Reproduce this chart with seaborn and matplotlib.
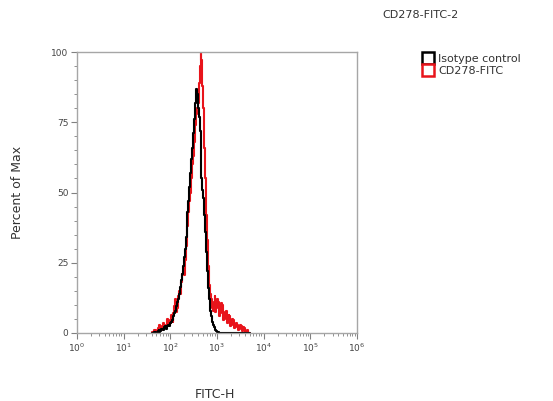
import numpy as np
import pandas as pd
import matplotlib
matplotlib.use("Agg")
import matplotlib.pyplot as plt
import matplotlib.ticker as mticker
from matplotlib.lines import Line2D
import seaborn as sb

# log10 of FITC-H channel (bin centres, 1.60 .. 3.70)
bins_log = np.round(np.arange(1.60, 3.701, 0.02), 2)

# Percent of Max for each sample
cd278 = [0, 0.3, 0.5, 1.2, 1.0, 0.4, 0.8, 1.6, 1.5, 2.8,
         2.5, 1.2, 1.8, 3.5, 3.0, 1.8, 2.2, 5.0, 4.5, 2.8,
         3.5, 6.5, 5.5, 4.0, 7.0, 9.5, 12.0, 7.5, 9.0, 13.0,
         15.0, 14.0, 18.0, 21.0, 22.0, 20.5, 26.0, 31.0, 34.0, 38.0,
         43.0, 47.0, 50.0, 55.0, 60.0, 63.0, 68.0, 74.0, 78.0, 80.0,
         82.0, 89.0, 95.0, 100.0, 97.0, 88.0, 80.0, 66.0, 55.0, 42.0,
         33.0, 24.0, 17.0, 14.0, 12.0, 9.0, 8.0, 11.0, 13.0, 7.5,
         9.0, 12.0, 11.0, 6.0, 7.0, 10.5, 10.0, 4.5, 5.0, 7.5,
         8.0, 3.5, 4.0, 6.5, 6.0, 2.5, 3.0, 5.0, 4.5, 1.8,
         2.0, 3.5, 3.0, 1.0, 1.5, 2.8, 2.5, 0.8, 1.0, 2.0,
         1.8, 0.5, 0.5, 1.0, 0, 0]
isotype = [0, 0, 0, 0.4, 0.5, 0, 0, 0.6, 1.0, 0.5,
           0.8, 1.4, 1.5, 1.0, 2.0, 2.4, 1.5, 2.5, 3.0, 2.6,
           3.5, 4.0, 4.5, 5.5, 6.0, 7.0, 8.0, 9.5, 11.0, 12.0,
           14.0, 16.5, 19.0, 21.0, 24.0, 27.0, 30.0, 34.0, 38.0, 43.0,
           47.0, 52.0, 57.0, 62.0, 66.0, 71.0, 76.0, 82.0, 87.0, 85.0,
           80.0, 77.0, 72.0, 63.0, 55.0, 51.0, 48.0, 42.0, 36.0, 29.0,
           22.0, 16.0, 12.0, 8.0, 6.0, 4.0, 3.0, 2.0, 1.5, 1.0,
           0.8, 0.5, 0.3, 0, 0, 0, 0, 0, 0, 0,
           0, 0, 0, 0, 0, 0, 0, 0, 0, 0,
           0, 0, 0, 0, 0, 0, 0, 0, 0, 0,
           0, 0, 0, 0, 0, 0]

fitc = 10 ** bins_log
red_df = pd.DataFrame({"FITC-H": fitc, "pct": cd278})
black_df = pd.DataFrame({"FITC-H": fitc, "pct": isotype})

sb.set_style("white")
plt.rcParams["font.family"] = ["DejaVu Sans"]

fig = plt.figure(figsize=(5.53, 4.01), dpi=100)
ax = fig.add_axes([0.139, 0.1696, 0.5064, 0.7007])

# histogram outlines drawn as steps, black on top
sb.lineplot(data=red_df, x="FITC-H", y="pct", ax=ax, color="#e8141b",
            linewidth=1.5, drawstyle="steps-mid")
sb.lineplot(data=black_df, x="FITC-H", y="pct", ax=ax, color="black",
            linewidth=1.5, drawstyle="steps-mid")

ax.set_xscale("log")
ax.set_xlim(1, 1e6)
ax.set_ylim(0, 100)
ax.set_xlabel("")
ax.set_ylabel("")

ax.set_yticks([0, 25, 50, 75, 100])
ax.yaxis.set_minor_locator(mticker.MultipleLocator(5))
ax.xaxis.set_major_locator(mticker.LogLocator(base=10, numticks=10))
ax.xaxis.set_minor_locator(mticker.LogLocator(base=10, subs=np.arange(2, 10), numticks=20))
ax.xaxis.set_minor_formatter(mticker.NullFormatter())

for s in ax.spines.values():
    s.set_color("#a6a6a6")
    s.set_linewidth(1.0)
ax.tick_params(which="major", direction="out", length=4, width=0.8,
               color="#808080", labelsize=6.5, labelcolor="#444444",
               left=True, bottom=True, pad=2)
ax.tick_params(which="minor", direction="out", length=2, width=0.6,
               color="#808080", left=True, bottom=True)

fig.text(18 / 553, 1 - 192 / 401, "Percent of Max", rotation=90,
         ha="center", va="center", fontsize=9, color="#333333")
fig.text(215 / 553, 1 - 394 / 401, "FITC-H", ha="center", va="center",
         fontsize=9, color="#333333")
fig.text(382 / 553, 1 - 15 / 401, "CD278-FITC-2", ha="left", va="center",
         fontsize=8, color="#333333")

handles = [Line2D([], [], linestyle="none", marker="s", markersize=8,
                  markerfacecolor="white", markeredgecolor="black",
                  markeredgewidth=1.8),
           Line2D([], [], linestyle="none", marker="s", markersize=8,
                  markerfacecolor="white", markeredgecolor="#e8141b",
                  markeredgewidth=1.8)]
fig.legend(handles, ["Isotype control", "CD278-FITC"], loc="upper left",
           bbox_to_anchor=(417 / 553, 1 - 48 / 401), frameon=False,
           fontsize=8, handlelength=1.0, handletextpad=0.4,
           labelspacing=0.2, borderpad=0, labelcolor="#333333")

fig.savefig("out.png", dpi=100)
